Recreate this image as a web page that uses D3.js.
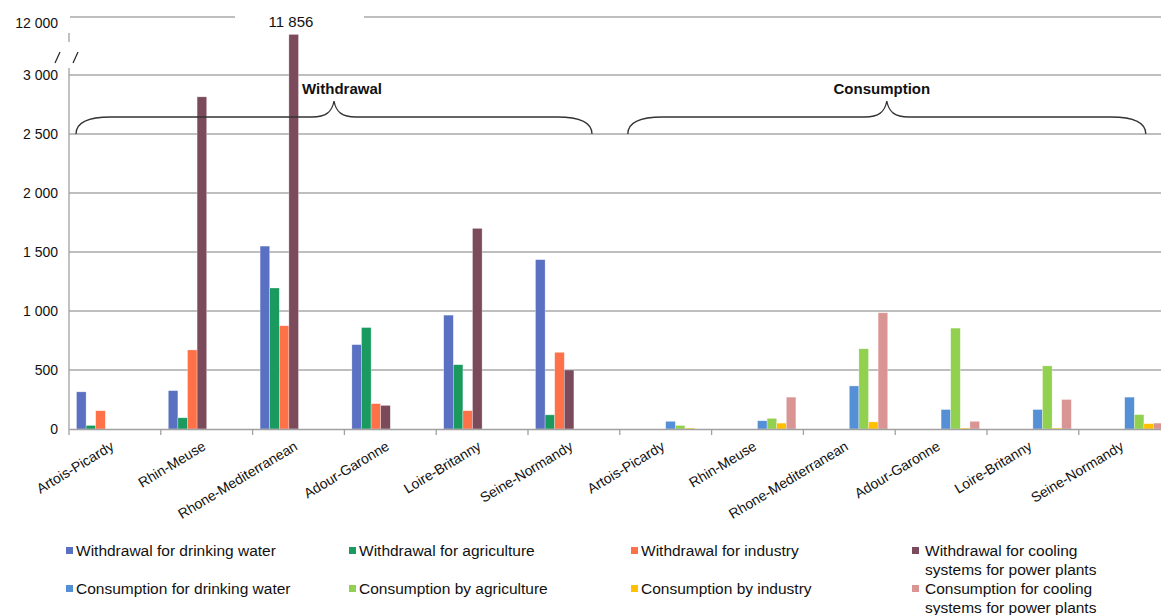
<!DOCTYPE html>
<html>
<head>
<meta charset="utf-8">
<script src="https://cdn.jsdelivr.net/npm/d3@7"></script>
<style>
  body { margin: 0; background: #fff; }
  text { font-family: "Liberation Sans", Arial, sans-serif; fill: #111; }
</style>
</head>
<body>
<svg id="chart"></svg>
<script>
const width = 1161;
const height = 615;

// regions (each shown twice: withdrawal block, then consumption block)
const regions = ['Artois-Picardy', 'Rhin-Meuse', 'Rhone-Mediterranean', 'Adour-Garonne', 'Loire-Britanny', 'Seine-Normandy'];

// withdrawal series
const withdrawalDrinking = [315, 325, 1550, 715, 965, 1435];
const withdrawalAgriculture = [30, 95, 1195, 860, 545, 120];
const withdrawalIndustry = [155, 670, 875, 215, 155, 650];
const withdrawalCooling = [0, 2815, 11856, 200, 1700, 500];

// consumption series
const consumptionDrinking = [65, 70, 365, 165, 165, 270];
const consumptionAgriculture = [30, 90, 680, 855, 535, 122];
const consumptionIndustry = [8, 50, 60, 8, 8, 45];
const consumptionCooling = [0, 270, 985, 65, 250, 50];

const seriesColors = ['#5a70c2', '#1b9a5f', '#ff7148', '#7b4a5b', '#5590d6', '#92d050', '#ffc000', '#d99594'];
const seriesValues = [withdrawalDrinking, withdrawalAgriculture, withdrawalIndustry, withdrawalCooling,
  consumptionDrinking, consumptionAgriculture, consumptionIndustry, consumptionCooling];

// tick labels
const lowTicks = [0, 500, 1000, 1500, 2000, 2500, 3000];
const highTicks = [12000];

const margin = { left: 69, top: 17, bottom: 429 };

const svg = d3.select('#chart')
  .attr('width', width)
  .attr('height', height);

// 12 groups: withdrawal regions then consumption regions
const groups = ['W', 'C'].flatMap(t => regions.map(r => t + '|' + r));

const x0 = d3.scaleBand()
  .domain(groups)
  .range([margin.left, margin.left + 12 * 91.8])
  .paddingInner(0)
  .paddingOuter(0);

const x1 = d3.scaleBand()
  .domain(d3.range(8))
  .range([0, x0.bandwidth()])
  .paddingInner(0)
  .paddingOuter(0.78);

// broken value axis: 0-3000 below the break, 12000 region above
const yLow = d3.scaleLinear().domain([0, 3000]).range([429, 75]);
const yHigh = d3.scaleLinear().domain([11520, 12000]).range([75, 17]);
const y = v => v <= 3000 ? yLow(v) : yHigh(v);

const fmt = d3.formatLocale({ decimal: '.', thousands: ' ', grouping: [3], currency: ['', ''] }).format(',');

// gridlines
svg.append('g')
  .selectAll('line')
  .data(lowTicks.filter(d => d > 0))
  .enter()
  .append('line')
  .attr('x1', margin.left)
  .attr('x2', width)
  .attr('y1', d => yLow(d))
  .attr('y2', d => yLow(d))
  .attr('stroke', '#a8a8a8')
  .attr('stroke-width', 1.3);

// top gridline, interrupted by the value label of the tall bar
const topY = yHigh(12000);
svg.append('line').attr('x1', margin.left + 1).attr('x2', 235).attr('y1', topY).attr('y2', topY)
  .attr('stroke', '#a8a8a8').attr('stroke-width', 1.3);
svg.append('line').attr('x1', 364).attr('x2', width).attr('y1', topY).attr('y2', topY)
  .attr('stroke', '#a8a8a8').attr('stroke-width', 1.3);

// y tick labels
svg.append('g')
  .selectAll('text')
  .data(lowTicks)
  .enter()
  .append('text')
  .attr('x', 58)
  .attr('y', d => yLow(d))
  .attr('dy', '0.36em')
  .attr('text-anchor', 'end')
  .attr('font-size', 14)
  .text(d => fmt(d));

svg.append('g')
  .selectAll('text')
  .data(highTicks)
  .enter()
  .append('text')
  .attr('x', 58)
  .attr('y', d => yHigh(d) + 6)
  .attr('dy', '0.36em')
  .attr('text-anchor', 'end')
  .attr('font-size', 14)
  .text(d => fmt(d));

// y axis line pieces and break marks
svg.append('line').attr('x1', margin.left).attr('x2', margin.left).attr('y1', 68).attr('y2', 429)
  .attr('stroke', '#a0a0a0').attr('stroke-width', 1.3);
svg.append('line').attr('x1', margin.left).attr('x2', margin.left).attr('y1', 33).attr('y2', 42)
  .attr('stroke', '#a0a0a0').attr('stroke-width', 1.3);
[[55, 60], [73, 78]].forEach(([a, b]) => {
  svg.append('line').attr('x1', a).attr('x2', b).attr('y1', 63).attr('y2', 52)
    .attr('stroke', '#222').attr('stroke-width', 1.2);
});

// bars
const bars = svg.append('g')
  .selectAll('g')
  .data(groups)
  .enter()
  .append('g')
  .attr('transform', g => `translate(${x0(g)},0)`);

bars.selectAll('rect')
  .data(g => {
    const [type, region] = g.split('|');
    const ri = regions.indexOf(region);
    const offset = type === 'W' ? 0 : 4;
    return d3.range(4).map(k => ({ s: k + offset, value: seriesValues[k + offset][ri] }));
  })
  .enter()
  .append('rect')
  .attr('x', d => x1(d.s))
  .attr('y', d => y(d.value))
  .attr('width', x1.bandwidth())
  .attr('height', d => 429 - y(d.value))
  .attr('fill', d => seriesColors[d.s])
  .attr('stroke', '#fff')
  .attr('stroke-opacity', 0.5)
  .attr('stroke-width', 0.6);

// value label of the tall bar
svg.append('text')
  .attr('x', 291)
  .attr('y', 27)
  .attr('text-anchor', 'middle')
  .attr('font-size', 15)
  .text(fmt(withdrawalCooling[2]));

// x axis
const xAxis = d3.axisBottom(x0).tickSize(0).tickFormat('');
const gx = svg.append('g')
  .attr('transform', `translate(0, 429)`)
  .call(xAxis);
gx.select('.domain').attr('stroke', '#a0a0a0').attr('stroke-width', 1.3);

svg.append('g')
  .selectAll('line')
  .data(d3.range(13))
  .enter()
  .append('line')
  .attr('x1', i => margin.left + i * x0.step())
  .attr('x2', i => margin.left + i * x0.step())
  .attr('y1', 429)
  .attr('y2', 435)
  .attr('stroke', '#a0a0a0')
  .attr('stroke-width', 1.3);

svg.append('g')
  .selectAll('text')
  .data(groups)
  .enter()
  .append('text')
  .attr('transform', g => `translate(${x0(g) + x0.bandwidth() / 2}, 449) rotate(-31)`)
  .attr('text-anchor', 'end')
  .attr('font-size', 14)
  .text(g => g.split('|')[1]);

// braces
function brace(xa, xb, apex) {
  const yb = 117, ye = 134, yt = 101;
  return `M${xa},${ye} C${xa},${yb + 5} ${xa + 12},${yb} ${xa + 35},${yb}` +
    ` L${apex - 22},${yb} C${apex - 8},${yb} ${apex - 2},${yb - 5} ${apex},${yt}` +
    ` C${apex + 2},${yb - 5} ${apex + 8},${yb} ${apex + 22},${yb}` +
    ` L${xb - 35},${yb} C${xb - 12},${yb} ${xb},${yb + 5} ${xb},${ye}`;
}
const blocks = [
  { label: 'Withdrawal', a: x0('W|Artois-Picardy') + 7, b: x0('W|Seine-Normandy') + 64, dx: 8 },
  { label: 'Consumption', a: x0('C|Artois-Picardy') + 8, b: x0('C|Seine-Normandy') + 67, dx: -5 }
];
blocks.forEach(bk => {
  const apex = (bk.a + bk.b) / 2;
  svg.append('path')
    .attr('d', brace(bk.a, bk.b, apex))
    .attr('fill', 'none')
    .attr('stroke', '#333')
    .attr('stroke-width', 1.3);
  svg.append('text')
    .attr('x', apex + bk.dx)
    .attr('y', 94)
    .attr('text-anchor', 'middle')
    .attr('font-size', 15)
    .attr('font-weight', 'bold')
    .text(bk.label);
});

// legend
const legendCols = [66, 349, 631, 912];
const legendRows = [551, 589];
const legendLines = [
  ['Withdrawal for drinking water'], ['Withdrawal for agriculture'], ['Withdrawal for industry'], ['Withdrawal for cooling', 'systems for power plants'],
  ['Consumption for drinking water'], ['Consumption by agriculture'], ['Consumption by industry'], ['Consumption for cooling', 'systems for power plants']
];
const legend = svg.append('g')
  .selectAll('g')
  .data(d3.range(8))
  .enter()
  .append('g')
  .attr('transform', i => `translate(${legendCols[i % 4]}, ${legendRows[Math.floor(i / 4)]})`);

legend.append('rect')
  .attr('x', 0)
  .attr('y', -4)
  .attr('width', 7)
  .attr('height', 7)
  .attr('fill', i => seriesColors[i]);

legend.append('text')
  .attr('x', i => i % 4 === 3 ? 13 : 10)
  .attr('y', 5)
  .attr('font-size', 15.5)
  .selectAll('tspan')
  .data(i => legendLines[i])
  .enter()
  .append('tspan')
  .attr('x', function () { return d3.select(this.parentNode).attr('x'); })
  .attr('dy', (d, j) => j === 0 ? 0 : 19)
  .text(d => d);
</script>
</body>
</html>
